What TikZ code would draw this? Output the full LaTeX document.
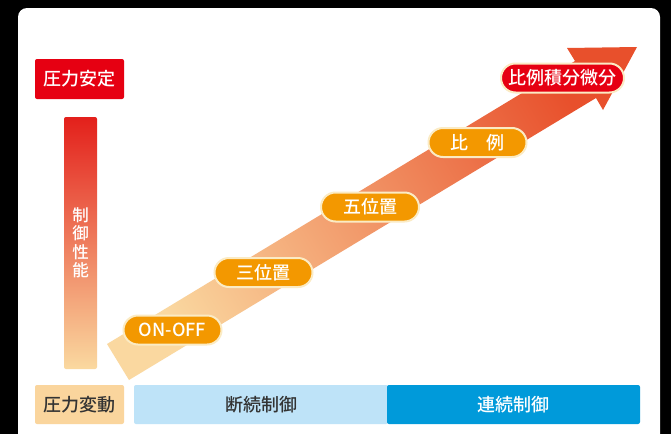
\documentclass[tikz,border=0pt]{standalone}
\usepackage{fontspec}
\setmainfont{Noto Sans CJK JP}[BoldFont={Noto Sans CJK JP Medium}]
\definecolor{arrowTail}{HTML}{FAD8A0}
\definecolor{arrowHead}{HTML}{E8502C}
\definecolor{barTop}{HTML}{E3201B}
\definecolor{barMid}{HTML}{EF8450}
\definecolor{barBot}{HTML}{FAD9A0}
\definecolor{pidRed}{HTML}{E60012}
\definecolor{pillOrange}{HTML}{F39800}
\definecolor{pillEdge}{HTML}{FBEBC4}
\definecolor{peach}{HTML}{FAD59D}
\definecolor{lightBlue}{HTML}{BEE3F8}
\definecolor{darkBlue}{HTML}{009ADA}
\definecolor{darkText}{HTML}{333333}
\begin{document}
\begin{tikzpicture}[x=1pt,y=-1pt,
  jpfont/.style={font=\bfseries\fontsize{18}{18}\selectfont},
  pill/.style={jpfont, draw=pillEdge, line width=2pt, fill=pillOrange, text=white,
    rounded corners=14.5pt, minimum width=98pt, minimum height=29pt, inner sep=0pt},
  tag/.style={jpfont, rounded corners=2pt, minimum height=39pt, inner sep=0pt}]
\useasboundingbox (0,0) rectangle (671,434);
\clip (0,0) rectangle (671,434);
\fill[black] (0,0) rectangle (671,434);
\fill[white, rounded corners=9pt] (18,8) rectangle (660,460);

% big diagonal arrow
\shade[top color=arrowHead, bottom color=arrowTail, shading angle=-59]
  (107,344) -- (575,61) -- (567,48) -- (637,47) -- (603,110) -- (596,98) -- (129,380) -- cycle;

% vertical performance bar
\shade[top color=barTop, middle color=barMid, bottom color=barBot, rounded corners=2pt] (64,117) rectangle (97,369);
\node[font=\bfseries\fontsize{16.5}{18.5}\selectfont, text=white, align=center, inner sep=0pt]
  (perf) at (80.5,243) {制\\御\\性\\能};

% top-left label
\node[tag, fill=pidRed, text=white, minimum width=89pt, minimum height=40pt] (stable) at (79.5,79) {圧力安定};

% pills on the arrow
\node[pill] (onoff) at (172.5,330) {ON-OFF};
\node[pill] (three) at (263.5,272.5) {三位置};
\node[pill] (five) at (370,207) {五位置};
\node[pill] (prop) at (477.5,142.5) {比　例};
\node[pill, fill=pidRed, minimum width=123pt] (pid) at (562.5,78) {比例積分微分};

% bottom row
\node[tag, fill=peach, text=darkText, minimum width=89pt] (fluct) at (79.5,404.5) {圧力変動};
\node[tag, fill=lightBlue, text=darkText, minimum width=254pt] (disc) at (261,404.5) {断続制御};
\node[tag, fill=darkBlue, text=white, minimum width=253pt] (cont) at (513.5,404.5) {連続制御};
\end{tikzpicture}
\end{document}
